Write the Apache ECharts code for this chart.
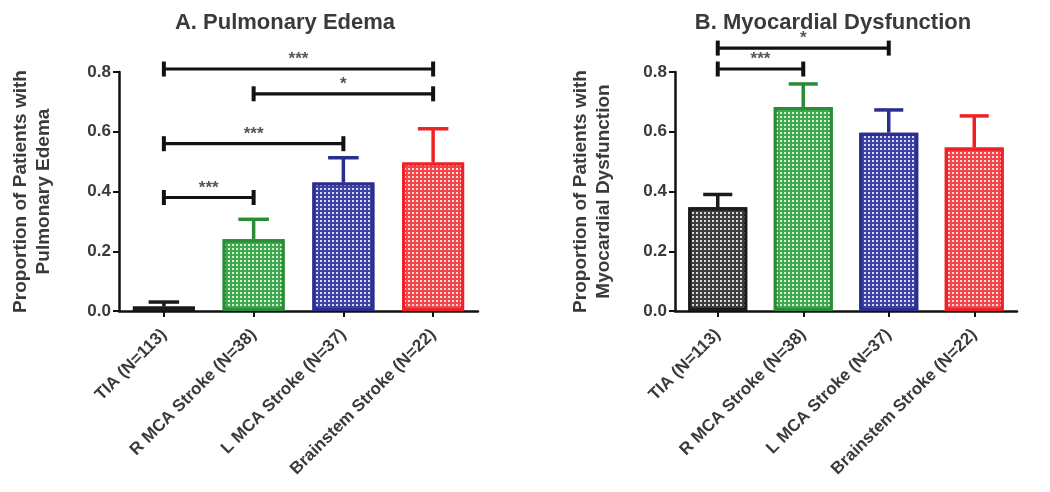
<!DOCTYPE html>
<html><head><meta charset="utf-8">
<script src="https://cdn.jsdelivr.net/npm/echarts@6/dist/echarts.min.js"></script>
<style>html,body{margin:0;padding:0;background:#fff}#c{width:1050px;height:492px}</style>
</head><body><div id="c"></div>
<script>
const categories = ['TIA (N=113)', 'R MCA Stroke (N=38)', 'L MCA Stroke (N=37)', 'Brainstem Stroke (N=22)'];
const edemaValues = [0.015, 0.24, 0.43, 0.497];
const edemaUpper = [0.03, 0.307, 0.513, 0.61];
const myoValues = [0.347, 0.683, 0.597, 0.547];
const myoUpper = [0.39, 0.76, 0.673, 0.653];
const yTicks = [0, 0.2, 0.4, 0.6, 0.8];
// significance brackets: [fromIndex, toIndex, yLevel, label]
const edemaSig = [[0, 3, 0.81, '***'], [1, 3, 0.727, '*'], [0, 2, 0.56, '***'], [0, 1, 0.38, '***']];
const myoSig = [[0, 2, 0.88, '*'], [0, 1, 0.81, '***']];

const borderColors = ['#1a1a1a', '#2a8c36', '#2a2e8c', '#ee2226'];
const fillColors = ['#3c3c3c', '#3ea84c', '#3c42a6', '#f2464a'];
const FONT = 'Liberation Sans, Arial, sans-serif';
const TXT = '#3a3a3a';

function barData(vals) {
  return vals.map((v, i) => ({
    value: v,
    itemStyle: {
      color: fillColors[i], borderColor: borderColors[i], borderWidth: 3,
      decal: { symbol: 'rect', symbolSize: 1, dashArrayX: [2, 2], dashArrayY: [2, 2], color: 'rgba(255,255,255,0.8)' }
    }
  }));
}
function errData(vals, ups) { return vals.map((v, i) => [i, v, ups[i]]); }

function renderErr(params, api) {
  const i = api.value(0);
  const p0 = api.coord([i, api.value(1)]);
  const p1 = api.coord([i, api.value(2)]);
  const half = api.size([1, 0])[0] * 0.17;
  const st = { stroke: borderColors[i], lineWidth: 3.5 };
  return { type: 'group', children: [
    { type: 'line', shape: { x1: p0[0], y1: p0[1], x2: p1[0], y2: p1[1] }, style: st },
    { type: 'line', shape: { x1: p1[0] - half, y1: p1[1], x2: p1[0] + half, y2: p1[1] }, style: st }
  ]};
}
function renderSig(params, api) {
  const a = api.coord([api.value(0), api.value(2)]);
  const b = api.coord([api.value(1), api.value(2)]);
  const arr = params.seriesName === 'sigA' ? edemaSig : myoSig;
  const st = { stroke: '#111', lineWidth: 3.2 };
  const cap = { stroke: '#111', lineWidth: 4 };
  return { type: 'group', children: [
    { type: 'line', shape: { x1: a[0], y1: a[1], x2: b[0], y2: b[1] }, style: st },
    { type: 'line', shape: { x1: a[0], y1: a[1] - 7.5, x2: a[0], y2: a[1] + 7.5 }, style: cap },
    { type: 'line', shape: { x1: b[0], y1: b[1] - 7.5, x2: b[0], y2: b[1] + 7.5 }, style: cap },
    { type: 'text', style: { x: (a[0] + b[0]) / 2, y: a[1] - 18, text: arr[params.dataIndex][3], fill: '#555', font: 'bold 17px ' + FONT, align: 'center', verticalAlign: 'top' } }
  ]};
}

function xAxis(gi) {
  return {
    type: 'category', gridIndex: gi, data: categories,
    axisLine: { lineStyle: { color: '#111', width: 2.5 } },
    axisTick: { show: true, alignWithLabel: true, length: 6, lineStyle: { color: '#111', width: 2 } },
    axisLabel: { rotate: 45, interval: 0, margin: 21, color: TXT, fontFamily: FONT, fontWeight: 'bold', fontSize: 17 }
  };
}
function yAxis(gi, name, gap) {
  return {
    type: 'value', gridIndex: gi, min: 0, max: 0.8, interval: 0.2,
    name: name, nameLocation: 'middle', nameRotate: 90, nameGap: gap,
    nameTextStyle: { color: TXT, fontFamily: FONT, fontWeight: 'bold', fontSize: 19, lineHeight: 23 },
    axisLine: { show: true, lineStyle: { color: '#111', width: 2.5 } },
    axisTick: { show: true, length: 6, lineStyle: { color: '#111', width: 2 } },
    splitLine: { show: false },
    axisLabel: { color: TXT, fontFamily: FONT, fontWeight: 'bold', fontSize: 17, margin: 8,
      formatter: v => { const t = yTicks.find(k => Math.abs(k - v) < 1e-9); return (t !== undefined ? t : v).toFixed(1); } }
  };
}

const chart = echarts.init(document.getElementById('c'));
chart.setOption({
  animation: false,
  backgroundColor: '#fff',
  title: [
    { text: 'A. Pulmonary Edema', left: 280, top: 7, textAlign: 'center', textStyle: { color: TXT, fontFamily: FONT, fontWeight: 'bold', fontSize: 22 } },
    { text: 'B. Myocardial Dysfunction', left: 828, top: 7, textAlign: 'center', textStyle: { color: TXT, fontFamily: FONT, fontWeight: 'bold', fontSize: 22 } }
  ],
  grid: [
    { left: 119, right: 572, top: 72, bottom: 181 },
    { left: 675, right: 33, top: 72, bottom: 181 }
  ],
  xAxis: [xAxis(0), xAxis(1)],
  yAxis: [
    yAxis(0, 'Proportion of Patients with\nPulmonary Edema', 64),
    yAxis(1, 'Proportion of Patients with\nMyocardial Dysfunction', 60)
  ],
  series: [
    { type: 'bar', xAxisIndex: 0, yAxisIndex: 0, barWidth: 62, data: barData(edemaValues), z: 2 },
    { type: 'bar', xAxisIndex: 1, yAxisIndex: 1, barWidth: 59, data: barData(myoValues), z: 2 },
    { type: 'custom', name: 'errA', xAxisIndex: 0, yAxisIndex: 0, renderItem: renderErr, data: errData(edemaValues, edemaUpper), z: 1, encode: { x: 0, y: [1, 2] } },
    { type: 'custom', name: 'errB', xAxisIndex: 1, yAxisIndex: 1, renderItem: renderErr, data: errData(myoValues, myoUpper), z: 1, encode: { x: 0, y: [1, 2] } },
    { type: 'custom', name: 'sigA', xAxisIndex: 0, yAxisIndex: 0, renderItem: renderSig, data: edemaSig.map(s => [s[0], s[1], s[2]]), z: 3, clip: false, encode: { x: [0, 1], y: 2 } },
    { type: 'custom', name: 'sigB', xAxisIndex: 1, yAxisIndex: 1, renderItem: renderSig, data: myoSig.map(s => [s[0], s[1], s[2]]), z: 3, clip: false, encode: { x: [0, 1], y: 2 } }
  ]
});
</script></body></html>
